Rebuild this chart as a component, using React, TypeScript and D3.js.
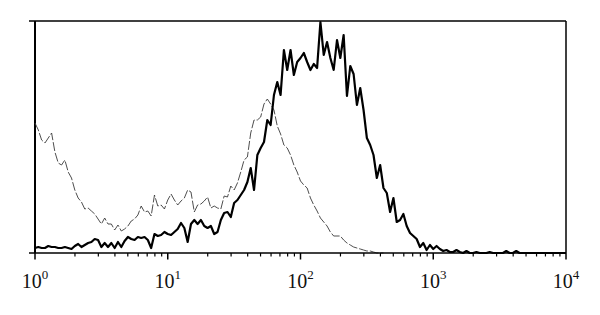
import React, { useRef, useEffect } from "react";
import * as d3 from "d3";

// histogram channels: 40 per decade, 10^0 .. 10^4
const channelsPerDecade = 40;

// thick black line (stained sample), counts per channel
const stained = [
  5, 6, 5, 5, 7, 6, 6, 5, 5, 6, 5, 4, 7, 9, 6, 8, 10, 11, 14, 13,
  6, 10, 6, 10, 5, 11, 6, 12, 16, 14, 13, 16, 15, 16, 13, 5, 19, 17, 18, 21,
  19, 18, 21, 24, 30, 25, 11, 29, 33, 29, 33, 27, 25, 27, 19, 21, 33, 40, 41, 36,
  50, 53, 58, 63, 71, 85, 63, 98, 105, 111, 133, 128, 158, 171, 158, 203, 183, 203, 178, 191,
  195, 200, 191, 183, 189, 185, 231, 198, 211, 195, 183, 213, 195, 218, 157, 187, 179, 148, 165, 143,
  115, 108, 98, 75, 88, 65, 60, 41, 55, 31, 33, 39, 27, 20, 17, 14, 6, 10, 3, 8,
  4, 7, 4, 2, 3, 1, 1, 3, 1, 0, 2, 0, 0, 1, 0, 0, 0, 1, 0, 0,
  0, 0, 2, 0, 0, 2, 0, 0, 0, 0, 0, 0, 0, 0, 0, 0, 0, 0, 0, 0, 0,
];

// thin dashed line (isotype control), counts per channel
const control = [
  130, 123, 113, 110, 115, 120, 101, 90, 88, 93, 81, 75, 63, 55, 51, 44, 45, 42, 39, 34,
  29, 35, 29, 29, 23, 28, 22, 24, 27, 32, 34, 38, 47, 41, 42, 37, 58, 47, 48, 44,
  53, 59, 53, 48, 52, 55, 63, 61, 41, 48, 49, 52, 56, 45, 47, 45, 44, 57, 56, 67,
  63, 70, 81, 93, 96, 120, 133, 133, 136, 149, 154, 149, 143, 127, 119, 108, 105, 98, 88, 81,
  72, 68, 65, 55, 48, 42, 35, 31, 27, 21, 17, 17, 17, 13, 10, 8, 6, 5, 4, 3,
  2, 2, 1, 0, 0, 0,
];

const decades = [0, 1, 2, 3, 4];

const App = () => {
  const svgRef = useRef<SVGSVGElement>(null);

  useEffect(() => {
    const w = 600;
    const h = 315;
    const margin = { top: 21, right: 34, bottom: 62, left: 35 };

    const svg = d3.select(svgRef.current).attr("width", w).attr("height", h);
    svg.selectAll("*").remove();

    const x = d3
      .scaleLog()
      .domain([1, 1e4])
      .range([margin.left, w - margin.right]);

    const y = d3
      .scaleLinear()
      .domain([0, 232])
      .range([h - margin.bottom, margin.top]);

    const line = d3
      .line<number>()
      .x((d, i) => x(10 ** (i / channelsPerDecade)))
      .y((d) => y(d));

    // frame: top, left, right
    const x0 = margin.left;
    const x1 = w - margin.right;
    const yb = h - margin.bottom;
    svg
      .append("line")
      .attr("x1", x0 - 6)
      .attr("x2", x1)
      .attr("y1", margin.top)
      .attr("y2", margin.top)
      .attr("stroke", "#000")
      .attr("stroke-width", 1.5);
    svg
      .append("line")
      .attr("x1", x0)
      .attr("x2", x0)
      .attr("y1", margin.top)
      .attr("y2", yb)
      .attr("stroke", "#000")
      .attr("stroke-width", 2);
    svg
      .append("line")
      .attr("x1", x1)
      .attr("x2", x1)
      .attr("y1", margin.top)
      .attr("y2", yb)
      .attr("stroke", "#000")
      .attr("stroke-width", 1.5);

    // control histogram
    svg
      .append("path")
      .datum(control)
      .attr("d", line)
      .attr("fill", "none")
      .attr("stroke", "#3a3a3a")
      .attr("stroke-width", 0.9)
      .attr("stroke-dasharray", "9 2");

    // stained histogram
    svg
      .append("path")
      .datum(stained)
      .attr("d", line)
      .attr("fill", "none")
      .attr("stroke", "#000")
      .attr("stroke-width", 2.2)
      .attr("stroke-linejoin", "round");

    // x axis
    const minor: number[] = [];
    decades.slice(0, -1).forEach((e) => {
      for (let k = 2; k < 10; k++) minor.push(k * 10 ** e);
    });

    const axis = svg.append("g").attr("transform", `translate(0, ${yb})`);
    axis
      .append("line")
      .attr("x1", x0 - 6)
      .attr("x2", x1)
      .attr("stroke", "#000")
      .attr("stroke-width", 1.5);
    axis
      .selectAll(".minor")
      .data(minor)
      .enter()
      .append("line")
      .attr("x1", (d) => x(d))
      .attr("x2", (d) => x(d))
      .attr("y2", 3.5)
      .attr("stroke", "#000")
      .attr("stroke-width", 1.2);
    axis
      .selectAll(".major")
      .data(decades)
      .enter()
      .append("line")
      .attr("x1", (d) => x(10 ** d))
      .attr("x2", (d) => x(10 ** d))
      .attr("y2", 6.5)
      .attr("stroke", "#000")
      .attr("stroke-width", 1.5);

    const labels = axis
      .selectAll(".label")
      .data(decades)
      .enter()
      .append("text")
      .attr("x", (d) => x(10 ** d))
      .attr("y", 35)
      .attr("text-anchor", "middle")
      .attr("font-family", "'Liberation Serif', 'DejaVu Serif', serif")
      .attr("font-size", 20)
      .attr("fill", "#111");
    labels.append("tspan").text("10");
    labels
      .append("tspan")
      .attr("dy", -9)
      .attr("font-size", 13)
      .text((d) => String(d));
  }, []);

  return (
    <div style={{ position: "absolute", left: 0, top: 0, width: 600, height: 315, background: "#fff" }}>
      <svg ref={svgRef} style={{ display: "block" }}></svg>
    </div>
  );
};

export default App;
